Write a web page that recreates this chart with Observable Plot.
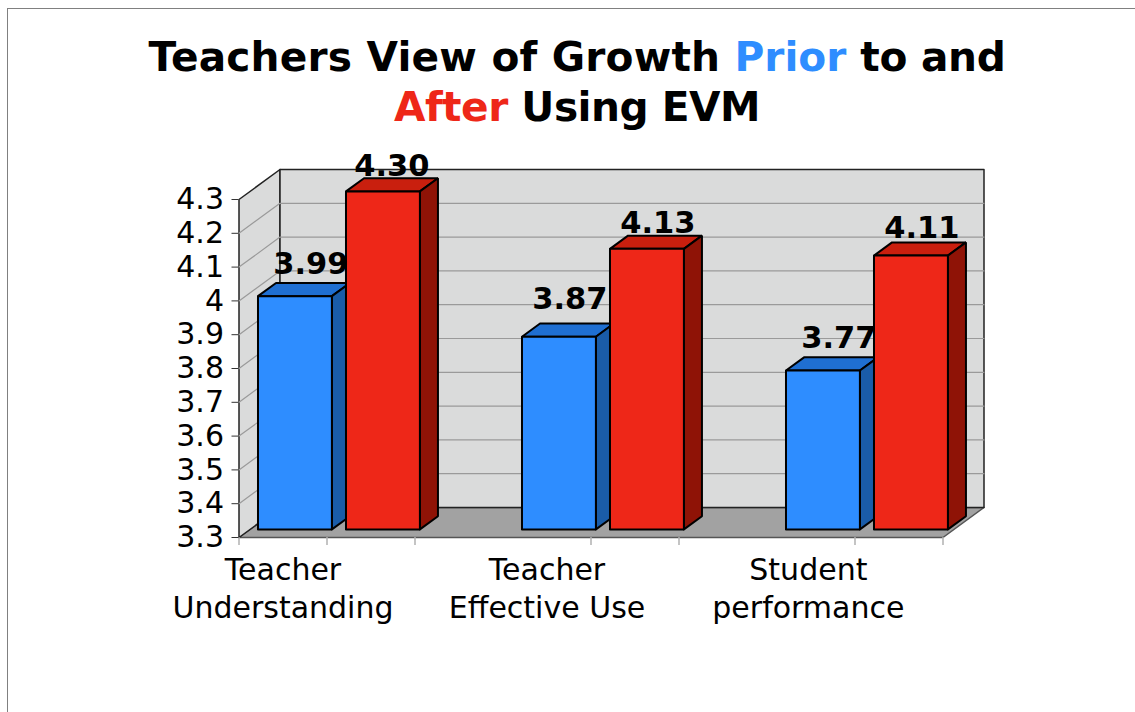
<!DOCTYPE html>
<html>
<head>
<meta charset="utf-8">
<script src="https://cdn.jsdelivr.net/npm/d3@7"></script>
<script src="https://cdn.jsdelivr.net/npm/@observablehq/plot@0.6"></script>
<style>
  html, body { margin: 0; padding: 0; background: #fff; overflow: hidden; }
  #page { position: relative; width: 1135px; height: 712px; overflow: hidden; font-family: "DejaVu Sans", sans-serif; }
  #frame { position: absolute; left: 7px; top: 8px; right: -5px; bottom: -5px; border-left: 1.5px solid #808080; border-top: 1.5px solid #808080; pointer-events: none; }
  #title { height: 140px; box-sizing: border-box; padding-top: 32px; text-align: center; font-weight: bold; font-size: 40.7px; line-height: 50px; color: #000; white-space: pre-line; padding-left: 19px; }
  #title .prior { color: #2e8dff; }
  #title .after { color: #ee2718; }
  #title .lead { letter-spacing: .17px; }
  #title .tail { letter-spacing: -.3px; }
  #title .second { letter-spacing: -.5px; }
  svg { display: block; }
</style>
</head>
<body>
<div id="page">
  <div id="frame"></div>
  <div id="title"><span class="lead">Teachers View of Growth </span><span class="prior">Prior</span><span class="tail"> to and</span>
<span class="second"><span class="after">After</span> Using EVM</span></div>
  <div id="chart"></div>
</div>
<script>
// Data
const categories = ["Teacher\nUnderstanding", "Teacher\nEffective Use", "Student\nperformance"];
const priorValues = [3.99, 3.87, 3.77];
const afterValues = [4.30, 4.13, 4.11];
const yTicks = [3.3, 3.4, 3.5, 3.6, 3.7, 3.8, 3.9, 4, 4.1, 4.2, 4.3];
const xTickSlots = [0, 1, 2, 4, 5, 7, 8];

// Styling
const blueFaces = {front: "#2e8dff", top: "#1f6fd2", side: "#1a5ca8"};
const redFaces = {front: "#ee2718", top: "#c91f0e", side: "#8f1306"};
const wallFill = "#dadbdb";
const floorFill = "#a2a2a2";

// Oblique projection: depth 0 = front of the box, depth 1 = back wall
const xUnit = 88, yUnit = 338, depthX = 41, depthY = 30;
const project = (slot, value, depth) => ({x: slot + depth * depthX / xUnit, y: value + depth * depthY / yUnit});
const [yMin, yMax] = d3.extent(yTicks);
const slots = 8;

const polygons = [];
function face(id, fill, stroke, corners) {
  const pts = [...corners, corners[0]];
  for (const [s, v, d] of pts) polygons.push({id, fill, stroke, ...project(s, v, d)});
}
face("floor", floorFill, "#555", [[0, yMin, 0], [slots, yMin, 0], [slots, yMin, 1], [0, yMin, 1]]);
face("left", wallFill, "#222", [[0, yMin, 0], [0, yMin, 1], [0, yMax, 1], [0, yMax, 0]]);
face("back", wallFill, "#222", [[0, yMin, 1], [slots, yMin, 1], [slots, yMax, 1], [0, yMax, 1]]);
const roomIds = ["floor", "left", "back"];

const gridLines = yTicks.slice(1, -1).flatMap((t) =>
  [[0, 0], [0, 1], [slots, 1]].map(([s, d]) => ({tick: t, ...project(s, t, d)})));

// Bars: one band per slot, front at depth .27, back at .71
const barInset = 0.09, barWidth = 0.84, d0 = 0.27, d1 = 0.71;
const bars = [];
categories.forEach((c, i) => {
  [[priorValues[i], blueFaces, "p"], [afterValues[i], redFaces, "a"]].forEach(([v, colors, k], j) => {
    const a = i * 3 + j + barInset, b = a + barWidth;
    face(`${k}${i}-top`, colors.top, "#000", [[a, v, d0], [b, v, d0], [b, v, d1], [a, v, d1]]);
    face(`${k}${i}-side`, colors.side, "#000", [[b, yMin, d0], [b, yMin, d1], [b, v, d1], [b, v, d0]]);
    face(`${k}${i}-front`, colors.front, "#000", [[a, yMin, d0], [b, yMin, d0], [b, v, d0], [a, v, d0]]);
    bars.push({slot: a + barWidth / 2, value: v});
  });
});

// Hand placement of the value labels, as in the reference (px from the front-face top)
const labelShift = [[27, -30], [20, -24], [22, -36], [22, -24], [27, -31], [22, -26]];
const labelMarks = bars.map((b, i) => Plot.text([b], {
  x: "slot", y: "value",
  text: (d) => d.value.toFixed(2),
  dx: labelShift[i][0], dy: labelShift[i][1],
  fontSize: 30.5, fontWeight: "bold", fill: "#000", lineAnchor: "bottom"
}));

const chart = Plot.plot({
  width: 1135, height: 572,
  marginLeft: 238.5, marginRight: 192.5, marginTop: 59, marginBottom: 175,
  style: {fontFamily: "DejaVu Sans, sans-serif", background: "transparent", overflow: "visible"},
  color: {type: "identity"},
  x: {type: "linear", domain: [0, slots], label: null},
  y: {type: "linear", domain: [yMin, yMax], label: null},
  marks: [
    Plot.line(polygons.filter((d) => roomIds.includes(d.id)), {x: "x", y: "y", z: "id", fill: "fill", stroke: "stroke", strokeWidth: 1.5, curve: "linear"}),
    Plot.line(gridLines, {x: "x", y: "y", z: "tick", stroke: "#9a9a9a", strokeWidth: 1.2, curve: "linear"}),
    Plot.ruleX(xTickSlots, {x: (d) => d, y1: yMin, y2: yMin - 8 / yUnit, stroke: "#b0b0b0", strokeWidth: 1.5}),
    Plot.line(polygons.filter((d) => !roomIds.includes(d.id)), {x: "x", y: "y", z: "id", fill: "fill", stroke: "stroke", strokeWidth: 2, strokeLinejoin: "miter", curve: "linear"}),
    Plot.axisY({ticks: yTicks, tickFormat: (d) => String(d), tickSize: 7, tickPadding: 8, fontSize: 30, label: null, stroke: "#333", fill: "#000"}),
    Plot.axisX({ticks: [0.5, 3.5, 6.47], tickFormat: (d) => categories[Math.floor(d / 3)], tickSize: 0, tickPadding: 15, fontSize: 30, lineHeight: 1.27, label: null, fill: "#000"}),
    ...labelMarks
  ]
});
document.getElementById("chart").append(chart);
</script>
</body>
</html>
